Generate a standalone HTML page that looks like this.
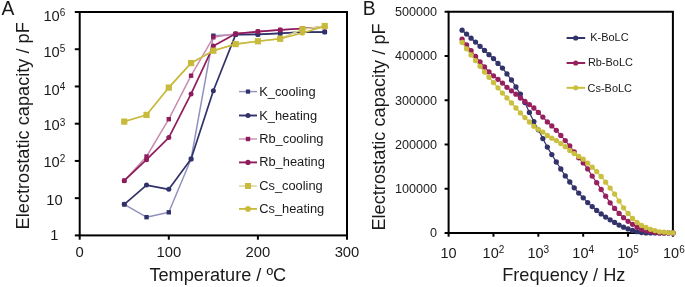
<!DOCTYPE html><html><head><meta charset="utf-8"><style>html,body{margin:0;padding:0;background:#fff;}svg{display:block;will-change:transform;}text{font-family:"Liberation Sans",sans-serif;fill:#1a1a1a;}</style></head><body>
<svg width="685" height="287" viewBox="0 0 685 287">
<text x="1.6" y="15" font-size="19.3">A</text>
<text x="362.7" y="14.9" font-size="19.3">B</text>
<polyline points="124.25,204.30 146.53,217.20 168.80,212.30 191.07,159.00 213.35,35.70 235.62,34.60 257.90,34.40 280.18,33.30 302.45,32.00 324.73,32.00" fill="none" stroke="#9292be" stroke-width="1.5" stroke-linejoin="round"/>
<rect x="122.05" y="202.10" width="4.4" height="4.4" fill="#31316b"/>
<rect x="144.33" y="215.00" width="4.4" height="4.4" fill="#31316b"/>
<rect x="166.60" y="210.10" width="4.4" height="4.4" fill="#31316b"/>
<rect x="188.88" y="156.80" width="4.4" height="4.4" fill="#31316b"/>
<rect x="211.15" y="33.50" width="4.4" height="4.4" fill="#31316b"/>
<rect x="233.43" y="32.40" width="4.4" height="4.4" fill="#31316b"/>
<rect x="255.70" y="32.20" width="4.4" height="4.4" fill="#31316b"/>
<rect x="277.98" y="31.10" width="4.4" height="4.4" fill="#31316b"/>
<rect x="300.25" y="29.80" width="4.4" height="4.4" fill="#31316b"/>
<rect x="322.53" y="29.80" width="4.4" height="4.4" fill="#31316b"/>
<polyline points="124.25,204.30 146.53,185.10 168.80,189.30 191.07,159.00 213.35,90.70 235.62,34.60 257.90,34.40 280.18,33.30 302.45,32.00 324.73,32.10" fill="none" stroke="#31316b" stroke-width="1.7" stroke-linejoin="round"/>
<circle cx="124.25" cy="204.30" r="2.5" fill="#31316b"/>
<circle cx="146.53" cy="185.10" r="2.5" fill="#31316b"/>
<circle cx="168.80" cy="189.30" r="2.5" fill="#31316b"/>
<circle cx="191.07" cy="159.00" r="2.5" fill="#31316b"/>
<circle cx="213.35" cy="90.70" r="2.5" fill="#31316b"/>
<circle cx="235.62" cy="34.60" r="2.5" fill="#31316b"/>
<circle cx="257.90" cy="34.40" r="2.5" fill="#31316b"/>
<circle cx="280.18" cy="33.30" r="2.5" fill="#31316b"/>
<circle cx="302.45" cy="32.00" r="2.5" fill="#31316b"/>
<circle cx="324.73" cy="32.10" r="2.5" fill="#31316b"/>
<polyline points="124.25,180.70 146.53,156.50 168.80,119.20 191.07,75.70 213.35,37.30 235.62,33.70 257.90,31.60 280.18,29.90 302.45,28.50 324.73,27.00" fill="none" stroke="#c98db0" stroke-width="1.5" stroke-linejoin="round"/>
<rect x="122.05" y="178.50" width="4.4" height="4.4" fill="#8f1c5c"/>
<rect x="144.33" y="154.30" width="4.4" height="4.4" fill="#8f1c5c"/>
<rect x="166.60" y="117.00" width="4.4" height="4.4" fill="#8f1c5c"/>
<rect x="188.88" y="73.50" width="4.4" height="4.4" fill="#8f1c5c"/>
<rect x="211.15" y="35.10" width="4.4" height="4.4" fill="#8f1c5c"/>
<rect x="233.43" y="31.50" width="4.4" height="4.4" fill="#8f1c5c"/>
<rect x="255.70" y="29.40" width="4.4" height="4.4" fill="#8f1c5c"/>
<rect x="277.98" y="27.70" width="4.4" height="4.4" fill="#8f1c5c"/>
<rect x="300.25" y="26.30" width="4.4" height="4.4" fill="#8f1c5c"/>
<rect x="322.53" y="24.80" width="4.4" height="4.4" fill="#8f1c5c"/>
<polyline points="124.25,180.70 146.53,159.70 168.80,137.60 191.07,93.90 213.35,46.10 235.62,33.70 257.90,31.60 280.18,29.90 302.45,28.50 324.73,27.00" fill="none" stroke="#8f1c5c" stroke-width="1.7" stroke-linejoin="round"/>
<circle cx="124.25" cy="180.70" r="2.5" fill="#8f1c5c"/>
<circle cx="146.53" cy="159.70" r="2.5" fill="#8f1c5c"/>
<circle cx="168.80" cy="137.60" r="2.5" fill="#8f1c5c"/>
<circle cx="191.07" cy="93.90" r="2.5" fill="#8f1c5c"/>
<circle cx="213.35" cy="46.10" r="2.5" fill="#8f1c5c"/>
<circle cx="235.62" cy="33.70" r="2.5" fill="#8f1c5c"/>
<circle cx="257.90" cy="31.60" r="2.5" fill="#8f1c5c"/>
<circle cx="280.18" cy="29.90" r="2.5" fill="#8f1c5c"/>
<circle cx="302.45" cy="28.50" r="2.5" fill="#8f1c5c"/>
<circle cx="324.73" cy="27.00" r="2.5" fill="#8f1c5c"/>
<polyline points="124.25,121.60 146.53,114.90 168.80,87.60 191.07,63.10 213.35,50.70 235.62,44.10 257.90,41.30 280.18,38.80 302.45,29.20 324.73,26.00" fill="none" stroke="#d9d28e" stroke-width="1.5" stroke-linejoin="round"/>
<rect x="121.15" y="118.50" width="6.2" height="6.2" fill="#c8bb3c"/>
<rect x="143.43" y="111.80" width="6.2" height="6.2" fill="#c8bb3c"/>
<rect x="165.70" y="84.50" width="6.2" height="6.2" fill="#c8bb3c"/>
<rect x="187.97" y="60.00" width="6.2" height="6.2" fill="#c8bb3c"/>
<rect x="210.25" y="47.60" width="6.2" height="6.2" fill="#c8bb3c"/>
<rect x="232.53" y="41.00" width="6.2" height="6.2" fill="#c8bb3c"/>
<rect x="254.80" y="38.20" width="6.2" height="6.2" fill="#c8bb3c"/>
<rect x="277.07" y="35.70" width="6.2" height="6.2" fill="#c8bb3c"/>
<rect x="299.35" y="26.10" width="6.2" height="6.2" fill="#c8bb3c"/>
<rect x="321.62" y="22.90" width="6.2" height="6.2" fill="#c8bb3c"/>
<polyline points="124.25,121.60 146.53,114.90 168.80,87.60 191.07,63.10 213.35,50.70 235.62,44.10 257.90,41.30 280.18,38.80 302.45,32.90 324.73,26.30" fill="none" stroke="#c8bb3c" stroke-width="1.6" stroke-linejoin="round"/>
<circle cx="124.25" cy="121.60" r="2.6" fill="#c8bb3c"/>
<circle cx="146.53" cy="114.90" r="2.6" fill="#c8bb3c"/>
<circle cx="168.80" cy="87.60" r="2.6" fill="#c8bb3c"/>
<circle cx="191.07" cy="63.10" r="2.6" fill="#c8bb3c"/>
<circle cx="213.35" cy="50.70" r="2.6" fill="#c8bb3c"/>
<circle cx="235.62" cy="44.10" r="2.6" fill="#c8bb3c"/>
<circle cx="257.90" cy="41.30" r="2.6" fill="#c8bb3c"/>
<circle cx="280.18" cy="38.80" r="2.6" fill="#c8bb3c"/>
<circle cx="302.45" cy="32.90" r="2.6" fill="#c8bb3c"/>
<circle cx="324.73" cy="26.30" r="2.6" fill="#c8bb3c"/>
<g stroke="#000" stroke-width="2" fill="none">
<rect x="79.7" y="12.0" width="267.30" height="223.40"/>
<line x1="74.80" y1="12.00" x2="79.7" y2="12.00"/>
<line x1="74.80" y1="49.23" x2="79.7" y2="49.23"/>
<line x1="74.80" y1="86.47" x2="79.7" y2="86.47"/>
<line x1="74.80" y1="123.70" x2="79.7" y2="123.70"/>
<line x1="74.80" y1="160.93" x2="79.7" y2="160.93"/>
<line x1="74.80" y1="198.17" x2="79.7" y2="198.17"/>
<line x1="74.80" y1="235.40" x2="79.7" y2="235.40"/>
<line x1="79.70" y1="235.4" x2="79.70" y2="239.70"/>
<line x1="168.80" y1="235.4" x2="168.80" y2="239.70"/>
<line x1="257.90" y1="235.4" x2="257.90" y2="239.70"/>
<line x1="347.00" y1="235.4" x2="347.00" y2="239.70"/>
</g>
<text x="54.4" y="21.0" font-size="14.7" text-anchor="middle">10<tspan font-size="10" dy="-4.6">6</tspan></text>
<text x="54.4" y="56.7" font-size="14.7" text-anchor="middle">10<tspan font-size="10" dy="-4.6">5</tspan></text>
<text x="54.4" y="94.5" font-size="14.7" text-anchor="middle">10<tspan font-size="10" dy="-4.6">4</tspan></text>
<text x="54.4" y="130.3" font-size="14.7" text-anchor="middle">10<tspan font-size="10" dy="-4.6">3</tspan></text>
<text x="54.4" y="166.7" font-size="14.7" text-anchor="middle">10<tspan font-size="10" dy="-4.6">2</tspan></text>
<text x="54.4" y="205.1" font-size="14.7" text-anchor="middle">10</text>
<text x="54.4" y="239.6" font-size="14.7" text-anchor="middle">1</text>
<text x="79.70" y="257.1" font-size="14.8" text-anchor="middle">0</text>
<text x="168.80" y="257.1" font-size="14.8" text-anchor="middle">100</text>
<text x="257.90" y="257.1" font-size="14.8" text-anchor="middle">200</text>
<text x="347.00" y="257.1" font-size="14.8" text-anchor="middle">300</text>
<text x="217.8" y="281.4" font-size="18.15" text-anchor="middle">Temperature / ºC</text>
<text transform="translate(28.8,125.8) rotate(-90)" x="0" y="0" font-size="18.2" text-anchor="middle">Electrostatic capacity / pF</text>
<line x1="239" y1="91.60" x2="257" y2="91.60" stroke="#9292be" stroke-width="1.4"/>
<rect x="245.90" y="89.50" width="4.2" height="4.2" fill="#31316b"/>
<text x="259.2" y="96.0" font-size="12.85">K_cooling</text>
<line x1="239" y1="115.50" x2="257" y2="115.50" stroke="#31316b" stroke-width="1.9"/>
<circle cx="248.00" cy="115.50" r="2.5" fill="#31316b"/>
<text x="259.2" y="119.6" font-size="12.85">K_heating</text>
<line x1="239" y1="139.00" x2="257" y2="139.00" stroke="#c98db0" stroke-width="1.4"/>
<rect x="245.80" y="136.80" width="4.4" height="4.4" fill="#8f1c5c"/>
<text x="259.2" y="142.8" font-size="12.85">Rb_cooling</text>
<line x1="239" y1="162.40" x2="257" y2="162.40" stroke="#8f1c5c" stroke-width="1.9"/>
<circle cx="248.00" cy="162.40" r="2.6" fill="#8f1c5c"/>
<text x="259.2" y="166.0" font-size="12.85">Rb_heating</text>
<line x1="239" y1="186.00" x2="257" y2="186.00" stroke="#d9d28e" stroke-width="1.4"/>
<rect x="245.00" y="183.00" width="6.0" height="6.0" fill="#c8bb3c"/>
<text x="259.2" y="189.5" font-size="12.85">Cs_cooling</text>
<line x1="239" y1="208.90" x2="257" y2="208.90" stroke="#c8bb3c" stroke-width="1.9"/>
<circle cx="248.00" cy="208.90" r="2.85" fill="#c8bb3c"/>
<text x="259.2" y="213.3" font-size="12.85">Cs_heating</text>
<g stroke="#000" stroke-width="2" fill="none">
<rect x="448.6" y="11.75" width="224.30" height="221.25"/>
<line x1="444.60" y1="233.00" x2="448.6" y2="233.00"/>
<line x1="444.60" y1="188.75" x2="448.6" y2="188.75"/>
<line x1="444.60" y1="144.50" x2="448.6" y2="144.50"/>
<line x1="444.60" y1="100.25" x2="448.6" y2="100.25"/>
<line x1="444.60" y1="56.00" x2="448.6" y2="56.00"/>
<line x1="444.60" y1="11.75" x2="448.6" y2="11.75"/>
<line x1="448.60" y1="233.0" x2="448.60" y2="236.70"/>
<line x1="493.46" y1="233.0" x2="493.46" y2="236.70"/>
<line x1="538.32" y1="233.0" x2="538.32" y2="236.70"/>
<line x1="583.18" y1="233.0" x2="583.18" y2="236.70"/>
<line x1="628.04" y1="233.0" x2="628.04" y2="236.70"/>
<line x1="672.90" y1="233.0" x2="672.90" y2="236.70"/>
</g>
<polyline points="462.10,30.20 466.59,34.10 471.08,38.20 475.56,42.10 480.05,46.30 484.53,50.40 489.02,54.70 493.51,58.60 497.99,63.40 502.48,68.10 506.96,73.90 511.45,80.00 515.94,87.00 520.42,94.10 524.91,102.60 529.39,112.40 533.88,121.60 538.37,129.80 542.85,138.60 547.34,147.10 551.82,154.60 556.31,162.00 560.80,169.00 565.28,175.90 569.77,182.00 574.25,187.80 578.74,193.10 583.23,197.80 587.71,202.60 592.20,206.60 596.68,210.40 601.17,213.90 605.66,217.10 610.14,219.80 614.63,222.40 619.11,225.10 623.60,227.20 628.09,228.90 632.57,230.50 637.06,231.70 641.54,232.60 646.03,232.90 650.52,232.90 655.00,232.90 659.49,232.90 663.97,232.90 668.46,232.90 672.95,232.90" fill="none" stroke="#33336c" stroke-width="1.2"/>
<circle cx="462.10" cy="30.20" r="2.65" fill="#33336c"/>
<circle cx="466.59" cy="34.10" r="2.65" fill="#33336c"/>
<circle cx="471.08" cy="38.20" r="2.65" fill="#33336c"/>
<circle cx="475.56" cy="42.10" r="2.65" fill="#33336c"/>
<circle cx="480.05" cy="46.30" r="2.65" fill="#33336c"/>
<circle cx="484.53" cy="50.40" r="2.65" fill="#33336c"/>
<circle cx="489.02" cy="54.70" r="2.65" fill="#33336c"/>
<circle cx="493.51" cy="58.60" r="2.65" fill="#33336c"/>
<circle cx="497.99" cy="63.40" r="2.65" fill="#33336c"/>
<circle cx="502.48" cy="68.10" r="2.65" fill="#33336c"/>
<circle cx="506.96" cy="73.90" r="2.65" fill="#33336c"/>
<circle cx="511.45" cy="80.00" r="2.65" fill="#33336c"/>
<circle cx="515.94" cy="87.00" r="2.65" fill="#33336c"/>
<circle cx="520.42" cy="94.10" r="2.65" fill="#33336c"/>
<circle cx="524.91" cy="102.60" r="2.65" fill="#33336c"/>
<circle cx="529.39" cy="112.40" r="2.65" fill="#33336c"/>
<circle cx="533.88" cy="121.60" r="2.65" fill="#33336c"/>
<circle cx="538.37" cy="129.80" r="2.65" fill="#33336c"/>
<circle cx="542.85" cy="138.60" r="2.65" fill="#33336c"/>
<circle cx="547.34" cy="147.10" r="2.65" fill="#33336c"/>
<circle cx="551.82" cy="154.60" r="2.65" fill="#33336c"/>
<circle cx="556.31" cy="162.00" r="2.65" fill="#33336c"/>
<circle cx="560.80" cy="169.00" r="2.65" fill="#33336c"/>
<circle cx="565.28" cy="175.90" r="2.65" fill="#33336c"/>
<circle cx="569.77" cy="182.00" r="2.65" fill="#33336c"/>
<circle cx="574.25" cy="187.80" r="2.65" fill="#33336c"/>
<circle cx="578.74" cy="193.10" r="2.65" fill="#33336c"/>
<circle cx="583.23" cy="197.80" r="2.65" fill="#33336c"/>
<circle cx="587.71" cy="202.60" r="2.65" fill="#33336c"/>
<circle cx="592.20" cy="206.60" r="2.65" fill="#33336c"/>
<circle cx="596.68" cy="210.40" r="2.65" fill="#33336c"/>
<circle cx="601.17" cy="213.90" r="2.65" fill="#33336c"/>
<circle cx="605.66" cy="217.10" r="2.65" fill="#33336c"/>
<circle cx="610.14" cy="219.80" r="2.65" fill="#33336c"/>
<circle cx="614.63" cy="222.40" r="2.65" fill="#33336c"/>
<circle cx="619.11" cy="225.10" r="2.65" fill="#33336c"/>
<circle cx="623.60" cy="227.20" r="2.65" fill="#33336c"/>
<circle cx="628.09" cy="228.90" r="2.65" fill="#33336c"/>
<circle cx="632.57" cy="230.50" r="2.65" fill="#33336c"/>
<circle cx="637.06" cy="231.70" r="2.65" fill="#33336c"/>
<circle cx="641.54" cy="232.60" r="2.65" fill="#33336c"/>
<circle cx="646.03" cy="232.90" r="2.65" fill="#33336c"/>
<circle cx="650.52" cy="232.90" r="2.65" fill="#33336c"/>
<circle cx="655.00" cy="232.90" r="2.65" fill="#33336c"/>
<circle cx="659.49" cy="232.90" r="2.65" fill="#33336c"/>
<circle cx="663.97" cy="232.90" r="2.65" fill="#33336c"/>
<circle cx="668.46" cy="232.90" r="2.65" fill="#33336c"/>
<circle cx="672.95" cy="232.90" r="2.65" fill="#33336c"/>
<polyline points="462.10,39.20 466.59,44.90 471.08,50.60 475.56,56.40 480.05,61.80 484.53,67.00 489.02,71.80 493.51,75.80 497.99,79.30 502.48,83.10 506.96,87.30 511.45,90.80 515.94,94.20 520.42,98.00 524.91,101.40 529.39,104.60 533.88,108.00 538.37,112.40 542.85,117.10 547.34,121.90 551.82,125.90 556.31,130.30 560.80,135.40 565.28,140.60 569.77,146.00 574.25,151.90 578.74,157.80 583.23,162.90 587.71,168.90 592.20,176.10 596.68,182.70 601.17,189.50 605.66,196.20 610.14,202.80 614.63,208.40 619.11,213.40 623.60,217.70 628.09,221.30 632.57,224.30 637.06,227.10 641.54,229.20 646.03,230.60 650.52,231.40 655.00,232.30 659.49,232.90 663.97,232.90 668.46,232.90 672.95,232.90" fill="none" stroke="#97205f" stroke-width="1.2"/>
<circle cx="462.10" cy="39.20" r="2.65" fill="#97205f"/>
<circle cx="466.59" cy="44.90" r="2.65" fill="#97205f"/>
<circle cx="471.08" cy="50.60" r="2.65" fill="#97205f"/>
<circle cx="475.56" cy="56.40" r="2.65" fill="#97205f"/>
<circle cx="480.05" cy="61.80" r="2.65" fill="#97205f"/>
<circle cx="484.53" cy="67.00" r="2.65" fill="#97205f"/>
<circle cx="489.02" cy="71.80" r="2.65" fill="#97205f"/>
<circle cx="493.51" cy="75.80" r="2.65" fill="#97205f"/>
<circle cx="497.99" cy="79.30" r="2.65" fill="#97205f"/>
<circle cx="502.48" cy="83.10" r="2.65" fill="#97205f"/>
<circle cx="506.96" cy="87.30" r="2.65" fill="#97205f"/>
<circle cx="511.45" cy="90.80" r="2.65" fill="#97205f"/>
<circle cx="515.94" cy="94.20" r="2.65" fill="#97205f"/>
<circle cx="520.42" cy="98.00" r="2.65" fill="#97205f"/>
<circle cx="524.91" cy="101.40" r="2.65" fill="#97205f"/>
<circle cx="529.39" cy="104.60" r="2.65" fill="#97205f"/>
<circle cx="533.88" cy="108.00" r="2.65" fill="#97205f"/>
<circle cx="538.37" cy="112.40" r="2.65" fill="#97205f"/>
<circle cx="542.85" cy="117.10" r="2.65" fill="#97205f"/>
<circle cx="547.34" cy="121.90" r="2.65" fill="#97205f"/>
<circle cx="551.82" cy="125.90" r="2.65" fill="#97205f"/>
<circle cx="556.31" cy="130.30" r="2.65" fill="#97205f"/>
<circle cx="560.80" cy="135.40" r="2.65" fill="#97205f"/>
<circle cx="565.28" cy="140.60" r="2.65" fill="#97205f"/>
<circle cx="569.77" cy="146.00" r="2.65" fill="#97205f"/>
<circle cx="574.25" cy="151.90" r="2.65" fill="#97205f"/>
<circle cx="578.74" cy="157.80" r="2.65" fill="#97205f"/>
<circle cx="583.23" cy="162.90" r="2.65" fill="#97205f"/>
<circle cx="587.71" cy="168.90" r="2.65" fill="#97205f"/>
<circle cx="592.20" cy="176.10" r="2.65" fill="#97205f"/>
<circle cx="596.68" cy="182.70" r="2.65" fill="#97205f"/>
<circle cx="601.17" cy="189.50" r="2.65" fill="#97205f"/>
<circle cx="605.66" cy="196.20" r="2.65" fill="#97205f"/>
<circle cx="610.14" cy="202.80" r="2.65" fill="#97205f"/>
<circle cx="614.63" cy="208.40" r="2.65" fill="#97205f"/>
<circle cx="619.11" cy="213.40" r="2.65" fill="#97205f"/>
<circle cx="623.60" cy="217.70" r="2.65" fill="#97205f"/>
<circle cx="628.09" cy="221.30" r="2.65" fill="#97205f"/>
<circle cx="632.57" cy="224.30" r="2.65" fill="#97205f"/>
<circle cx="637.06" cy="227.10" r="2.65" fill="#97205f"/>
<circle cx="641.54" cy="229.20" r="2.65" fill="#97205f"/>
<circle cx="646.03" cy="230.60" r="2.65" fill="#97205f"/>
<circle cx="650.52" cy="231.40" r="2.65" fill="#97205f"/>
<circle cx="655.00" cy="232.30" r="2.65" fill="#97205f"/>
<circle cx="659.49" cy="232.90" r="2.65" fill="#97205f"/>
<circle cx="663.97" cy="232.90" r="2.65" fill="#97205f"/>
<circle cx="668.46" cy="232.90" r="2.65" fill="#97205f"/>
<circle cx="672.95" cy="232.90" r="2.65" fill="#97205f"/>
<polyline points="462.10,42.40 466.59,48.80 471.08,54.90 475.56,60.60 480.05,66.30 484.53,72.10 489.02,77.30 493.51,82.60 497.99,87.80 502.48,93.10 506.96,97.90 511.45,102.90 515.94,108.00 520.42,112.90 524.91,117.60 529.39,122.00 533.88,126.30 538.37,129.30 542.85,132.10 547.34,135.40 551.82,138.20 556.31,140.60 560.80,143.60 565.28,146.70 569.77,150.40 574.25,153.60 578.74,156.40 583.23,159.20 587.71,163.10 592.20,167.20 596.68,171.60 601.17,176.50 605.66,182.20 610.14,188.10 614.63,194.10 619.11,201.10 623.60,207.80 628.09,213.50 632.57,218.40 637.06,222.50 641.54,225.40 646.03,227.50 650.52,229.30 655.00,230.60 659.49,231.80 663.97,232.10 668.46,232.70 672.95,232.90" fill="none" stroke="#cbbf3f" stroke-width="1.2"/>
<circle cx="462.10" cy="42.40" r="2.65" fill="#cbbf3f"/>
<circle cx="466.59" cy="48.80" r="2.65" fill="#cbbf3f"/>
<circle cx="471.08" cy="54.90" r="2.65" fill="#cbbf3f"/>
<circle cx="475.56" cy="60.60" r="2.65" fill="#cbbf3f"/>
<circle cx="480.05" cy="66.30" r="2.65" fill="#cbbf3f"/>
<circle cx="484.53" cy="72.10" r="2.65" fill="#cbbf3f"/>
<circle cx="489.02" cy="77.30" r="2.65" fill="#cbbf3f"/>
<circle cx="493.51" cy="82.60" r="2.65" fill="#cbbf3f"/>
<circle cx="497.99" cy="87.80" r="2.65" fill="#cbbf3f"/>
<circle cx="502.48" cy="93.10" r="2.65" fill="#cbbf3f"/>
<circle cx="506.96" cy="97.90" r="2.65" fill="#cbbf3f"/>
<circle cx="511.45" cy="102.90" r="2.65" fill="#cbbf3f"/>
<circle cx="515.94" cy="108.00" r="2.65" fill="#cbbf3f"/>
<circle cx="520.42" cy="112.90" r="2.65" fill="#cbbf3f"/>
<circle cx="524.91" cy="117.60" r="2.65" fill="#cbbf3f"/>
<circle cx="529.39" cy="122.00" r="2.65" fill="#cbbf3f"/>
<circle cx="533.88" cy="126.30" r="2.65" fill="#cbbf3f"/>
<circle cx="538.37" cy="129.30" r="2.65" fill="#cbbf3f"/>
<circle cx="542.85" cy="132.10" r="2.65" fill="#cbbf3f"/>
<circle cx="547.34" cy="135.40" r="2.65" fill="#cbbf3f"/>
<circle cx="551.82" cy="138.20" r="2.65" fill="#cbbf3f"/>
<circle cx="556.31" cy="140.60" r="2.65" fill="#cbbf3f"/>
<circle cx="560.80" cy="143.60" r="2.65" fill="#cbbf3f"/>
<circle cx="565.28" cy="146.70" r="2.65" fill="#cbbf3f"/>
<circle cx="569.77" cy="150.40" r="2.65" fill="#cbbf3f"/>
<circle cx="574.25" cy="153.60" r="2.65" fill="#cbbf3f"/>
<circle cx="578.74" cy="156.40" r="2.65" fill="#cbbf3f"/>
<circle cx="583.23" cy="159.20" r="2.65" fill="#cbbf3f"/>
<circle cx="587.71" cy="163.10" r="2.65" fill="#cbbf3f"/>
<circle cx="592.20" cy="167.20" r="2.65" fill="#cbbf3f"/>
<circle cx="596.68" cy="171.60" r="2.65" fill="#cbbf3f"/>
<circle cx="601.17" cy="176.50" r="2.65" fill="#cbbf3f"/>
<circle cx="605.66" cy="182.20" r="2.65" fill="#cbbf3f"/>
<circle cx="610.14" cy="188.10" r="2.65" fill="#cbbf3f"/>
<circle cx="614.63" cy="194.10" r="2.65" fill="#cbbf3f"/>
<circle cx="619.11" cy="201.10" r="2.65" fill="#cbbf3f"/>
<circle cx="623.60" cy="207.80" r="2.65" fill="#cbbf3f"/>
<circle cx="628.09" cy="213.50" r="2.65" fill="#cbbf3f"/>
<circle cx="632.57" cy="218.40" r="2.65" fill="#cbbf3f"/>
<circle cx="637.06" cy="222.50" r="2.65" fill="#cbbf3f"/>
<circle cx="641.54" cy="225.40" r="2.65" fill="#cbbf3f"/>
<circle cx="646.03" cy="227.50" r="2.65" fill="#cbbf3f"/>
<circle cx="650.52" cy="229.30" r="2.65" fill="#cbbf3f"/>
<circle cx="655.00" cy="230.60" r="2.65" fill="#cbbf3f"/>
<circle cx="659.49" cy="231.80" r="2.65" fill="#cbbf3f"/>
<circle cx="663.97" cy="232.10" r="2.65" fill="#cbbf3f"/>
<circle cx="668.46" cy="232.70" r="2.65" fill="#cbbf3f"/>
<circle cx="672.95" cy="232.90" r="2.65" fill="#cbbf3f"/>
<text x="437" y="237.40" font-size="12.6" text-anchor="end">0</text>
<text x="437" y="193.15" font-size="12.6" text-anchor="end">100000</text>
<text x="437" y="148.90" font-size="12.6" text-anchor="end">200000</text>
<text x="437" y="104.65" font-size="12.6" text-anchor="end">300000</text>
<text x="437" y="60.40" font-size="12.6" text-anchor="end">400000</text>
<text x="437" y="16.15" font-size="12.6" text-anchor="end">500000</text>
<text x="448.60" y="257.8" font-size="14.5" text-anchor="middle">10</text>
<text x="493.46" y="257.8" font-size="14.5" text-anchor="middle">10<tspan font-size="10" dy="-4.6">2</tspan></text>
<text x="538.32" y="257.8" font-size="14.5" text-anchor="middle">10<tspan font-size="10" dy="-4.6">3</tspan></text>
<text x="583.18" y="257.8" font-size="14.5" text-anchor="middle">10<tspan font-size="10" dy="-4.6">4</tspan></text>
<text x="628.04" y="257.8" font-size="14.5" text-anchor="middle">10<tspan font-size="10" dy="-4.6">5</tspan></text>
<text x="673.90" y="257.8" font-size="14.5" text-anchor="middle">10<tspan font-size="10" dy="-4.6">6</tspan></text>
<text x="563.8" y="281.4" font-size="18.2" text-anchor="middle">Frequency / Hz</text>
<text transform="translate(384.5,127) rotate(-90)" x="0" y="0" font-size="18.2" text-anchor="middle">Electrostatic capacity / pF</text>
<line x1="566.6" y1="38.0" x2="585.2" y2="38.0" stroke="#33336c" stroke-width="2"/>
<circle cx="575.70" cy="38.00" r="2.6" fill="#33336c"/>
<text x="590.3" y="40.5" font-size="10.95">K-BoLC</text>
<line x1="566.6" y1="63.0" x2="585.2" y2="63.0" stroke="#97205f" stroke-width="2"/>
<circle cx="575.70" cy="63.00" r="2.6" fill="#97205f"/>
<text x="587.9" y="65.9" font-size="10.95">Rb-BoLC</text>
<line x1="566.6" y1="87.8" x2="585.2" y2="87.8" stroke="#cbbf3f" stroke-width="2"/>
<circle cx="575.70" cy="87.80" r="2.6" fill="#cbbf3f"/>
<text x="587.6" y="91.6" font-size="10.95">Cs-BoLC</text>
</svg></body></html>
